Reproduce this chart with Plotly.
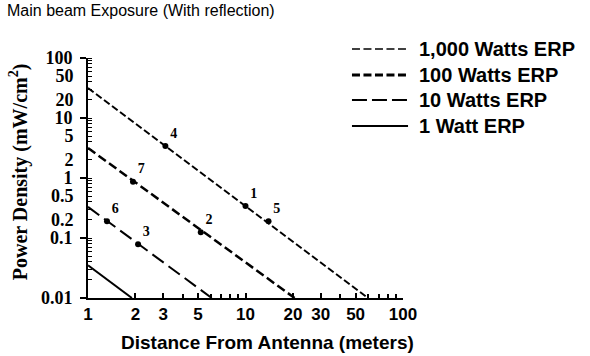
import plotly.graph_objects as go

# ---- data ----
erp_names = ["1,000 Watts ERP", "100 Watts ERP", "10 Watts ERP", "1 Watt ERP"]
dist_1000 = [1, 60]
pd_1000 = [31.6, 0.01]
dist_100 = [1, 20.5]
pd_100 = [3.16, 0.01]
dist_10 = [1, 6.1]
pd_10 = [0.33, 0.01]
dist_1 = [1, 1.9]
pd_1 = [0.035, 0.01]

pt_labels = ["1", "2", "3", "4", "5", "6", "7"]
pt_x = [10.0, 5.2, 2.08, 3.1, 14.0, 1.32, 1.93]
pt_y = [0.34, 0.125, 0.079, 3.4, 0.19, 0.19, 0.87]

x_ticks = [1, 2, 3, 5, 10, 20, 30, 50, 100]
y_major = [0.01, 0.1, 1, 10, 100]
y_major_text = ["0.01", "0.1", "1", "10", "100"]
y_extra = [0.2, 0.5, 2, 5, 20, 50]
y_extra_text = ["0.2", "0.5", "2", "5", "20", "50"]

dashes = ["7px,3px", "9px,4px", "14px,6px", "solid"]
widths = [2, 2.5, 2, 2]

SANS = "Liberation Sans, Arial, sans-serif"
SERIF = "Liberation Serif, Times New Roman, serif"

fig = go.Figure()
for xs, ys, d, w in zip([dist_1000, dist_100, dist_10, dist_1],
                        [pd_1000, pd_100, pd_10, pd_1], dashes, widths):
    fig.add_trace(go.Scatter(x=xs, y=ys, mode="lines",
                             line=dict(color="black", width=w, dash=d),
                             showlegend=False, hoverinfo="skip"))

fig.add_trace(go.Scatter(x=pt_x, y=pt_y, mode="markers+text", text=pt_labels,
                         textposition="top right",
                         textfont=dict(family=SERIF, size=14, color="black", weight="bold"),
                         marker=dict(color="black", size=6),
                         showlegend=False))

# invisible trace to hold the secondary label axis
fig.add_trace(go.Scatter(x=[10], y=[1], yaxis="y2", mode="markers",
                         marker=dict(opacity=0), showlegend=False, hoverinfo="skip"))

# manual legend
leg_y = [1.0375, 0.929, 0.825, 0.717]
leg_dash = ["8px,3.5px", "8px,3.5px", "15px,5px", "solid"]
leg_w = [1.5, 3, 2, 2]
for name, d, w, yy in zip(erp_names, leg_dash, leg_w, leg_y):
    fig.add_shape(type="line", xref="paper", yref="paper",
                  x0=0.838, x1=1.016, y0=yy, y1=yy,
                  line=dict(color="black", width=w, dash=d))
    fig.add_annotation(xref="paper", yref="paper", x=1.045, y=yy, text=name,
                       showarrow=False, xanchor="left", yanchor="middle",
                       font=dict(family=SANS, size=20, color="black", weight="bold"))

fig.add_annotation(xref="paper", yref="paper", x=-0.265, y=1.2,
                   text="Main beam Exposure (With reflection)", showarrow=False,
                   xanchor="left", yanchor="middle",
                   font=dict(family=SANS, size=16, color="black"))
fig.add_annotation(xref="paper", yref="paper", x=0.57, y=-0.185,
                   text="Distance From Antenna (meters)", showarrow=False,
                   xanchor="center", yanchor="middle",
                   font=dict(family=SANS, size=19, color="black", weight="bold"))
fig.add_annotation(xref="paper", yref="paper", x=-0.22, y=0.527,
                   text="Power Density (mW/cm<sup>2</sup>)", showarrow=False,
                   textangle=-90, xanchor="center", yanchor="middle",
                   font=dict(family=SERIF, size=20, color="black", weight="bold"))

fig.update_layout(
    width=590, height=356,
    margin=dict(l=88, r=187, t=58, b=58),
    plot_bgcolor="white", paper_bgcolor="white",
    showlegend=False,
    xaxis=dict(type="log", range=[0, 2], showgrid=False, zeroline=False,
               showline=True, linecolor="black", linewidth=2,
               tickvals=x_ticks, ticktext=[str(v) for v in x_ticks],
               ticks="inside", ticklen=5, tickwidth=2, tickcolor="black",
               minor=dict(ticks="inside", ticklen=4, tickwidth=1.5, tickcolor="black", dtick="D1"),
               tickfont=dict(family=SANS, size=17, color="black", weight="bold")),
    yaxis=dict(type="log", range=[-2, 2], showgrid=False, zeroline=False,
               showline=True, linecolor="black", linewidth=2,
               tickvals=y_major, ticktext=y_major_text,
               ticks="outside", ticklen=6, tickwidth=2, tickcolor="black",
               ticklabelstandoff=4,
               minor=dict(ticks="inside", ticklen=4, tickwidth=1, tickcolor="black", dtick="D1"),
               tickfont=dict(family=SERIF, size=18, color="black", weight="bold")),
    yaxis2=dict(type="log", range=[-2, 2], overlaying="y", side="left", anchor="x",
                showgrid=False, zeroline=False, showline=False, ticks="outside",
                ticklen=6, tickcolor="rgba(0,0,0,0)", ticklabelstandoff=4,
                tickvals=y_extra, ticktext=y_extra_text,
                tickfont=dict(family=SERIF, size=18, color="black", weight="bold")),
)

fig.write_html("out.html", config={"displayModeBar": False},
               post_script="document.body.style.margin='0';document.body.style.overflow='hidden';")
